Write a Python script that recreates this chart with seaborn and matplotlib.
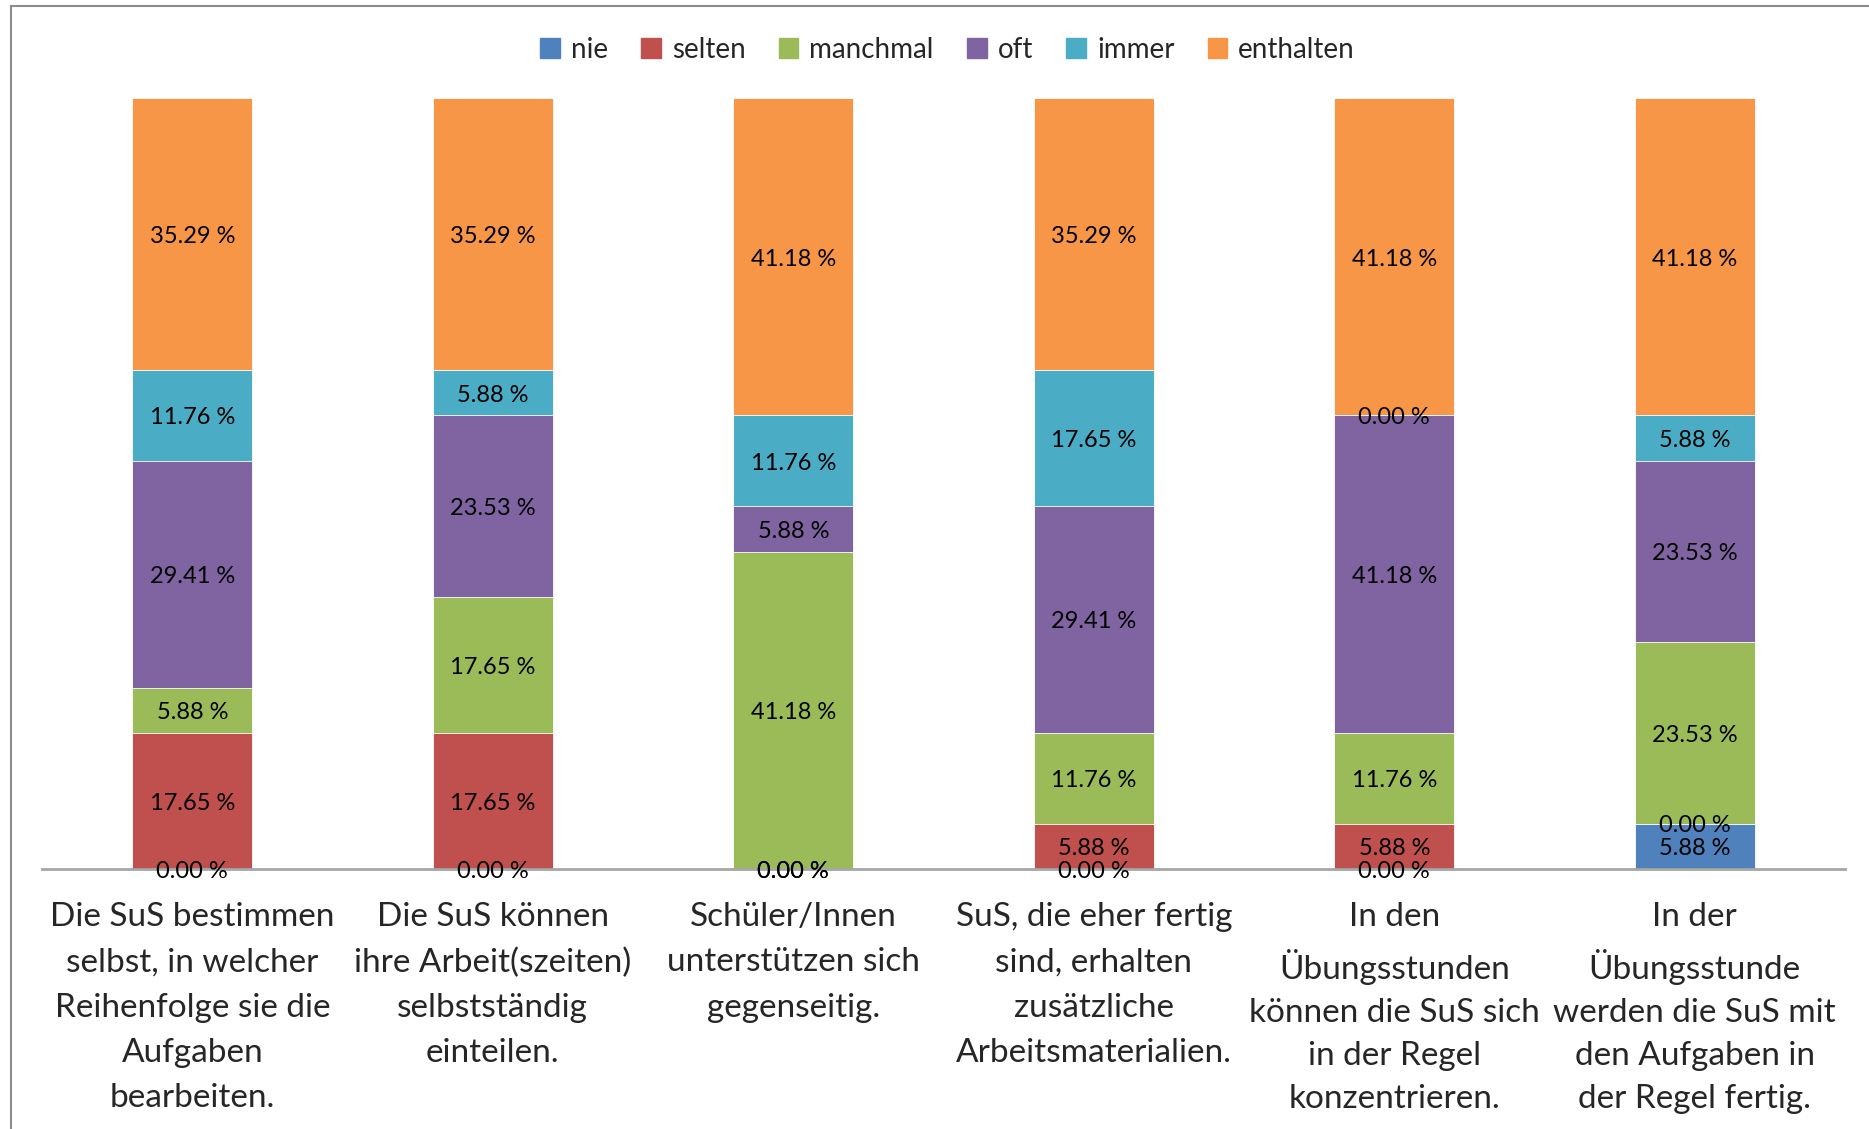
import pandas as pd
import numpy as np
import matplotlib
matplotlib.use("Agg")
import matplotlib.pyplot as plt
import seaborn as sns
from matplotlib.patches import Rectangle

# Categories (x tick labels, wrapped like the original)
categories = [
    "Die SuS bestimmen\nselbst, in welcher\nReihenfolge sie die\nAufgaben\nbearbeiten.",
    "Die SuS können\nihre Arbeit(szeiten)\nselbstständig\neinteilen.",
    "Schüler/Innen\nunterstützen sich\ngegenseitig.",
    "SuS, die eher fertig\nsind, erhalten\nzusätzliche\nArbeitsmaterialien.",
    "In den\nÜbungsstunden\nkönnen die SuS sich\nin der Regel\nkonzentrieren.",
    "In der\nÜbungsstunde\nwerden die SuS mit\nden Aufgaben in\nder Regel fertig.",
]

# Series values in percent
nie = [0.00, 0.00, 0.00, 0.00, 0.00, 5.88]
selten = [17.65, 17.65, 0.00, 5.88, 5.88, 0.00]
manchmal = [5.88, 17.65, 41.18, 11.76, 11.76, 23.53]
oft = [29.41, 23.53, 5.88, 29.41, 41.18, 23.53]
immer = [11.76, 5.88, 11.76, 17.65, 0.00, 5.88]
enthalten = [35.29, 35.29, 41.18, 35.29, 41.18, 41.18]

series = ["nie", "selten", "manchmal", "oft", "immer", "enthalten"]
colors = ["#4F81BD", "#C0504D", "#9BBB59", "#8064A2", "#4BACC6", "#F79646"]

df = pd.DataFrame(
    {"nie": nie, "selten": selten, "manchmal": manchmal,
     "oft": oft, "immer": immer, "enthalten": enthalten},
    index=categories,
)
cum = df.cumsum(axis=1)

sns.set_theme(style="white")
plt.rcParams["font.family"] = ["Lato", "DejaVu Sans"]

fig = plt.figure(figsize=(18.69, 11.29), dpi=100)
ax = fig.add_axes([42 / 1869, 1 - 869 / 1129, (1845 - 42) / 1869, (869 - 98) / 1129])

# draw cumulative bars from the top series downwards so they stack
for name, col in reversed(list(zip(series, colors))):
    sns.barplot(x=list(range(len(categories))), y=cum[name].values, color=col,
                width=0.4, saturation=1, ax=ax, edgecolor="white", linewidth=0.6,
                legend=False)

# segment labels
for name in series:
    mids = cum[name].values - df[name].values / 2
    for i, (m, v) in enumerate(zip(mids, df[name].values)):
        ax.text(i, m - 0.3, f"{v:.2f} %", ha="center", va="center", fontsize=17, color="black")

ax.set_ylim(0, 100)
ax.set_xlim(-0.5, len(categories) - 0.5)
ax.set_yticks([])
ax.set_ylabel("")
ax.set_xticks(range(len(categories)))
ax.set_xticklabels(categories, fontsize=24, linespacing=1.63)
# lines with "Ü" get extra height in matplotlib, tighten those labels a bit
for lab in ax.get_xticklabels():
    if "Ü" in lab.get_text():
        lab.set_linespacing(1.545)
ax.tick_params(axis="x", length=0, pad=24)
for s in ["left", "right", "top"]:
    ax.spines[s].set_visible(False)
ax.spines["bottom"].set_color("#A6A6A6")
ax.spines["bottom"].set_linewidth(2)

handles = [Rectangle((0, 0), 1, 1, color=c) for c in colors]
fig.legend(handles, series, loc="center", bbox_to_anchor=(0.507, 0.956), ncol=6,
           frameon=False, fontsize=20, handlelength=0.7, handleheight=0.7,
           handletextpad=0.4, columnspacing=1.2)

# outer chart border (right and bottom cut off in the original)
fig.patches.append(Rectangle((11 / 1869, -0.1), 1.1, 1 - 6 / 1129 + 0.1,
                             transform=fig.transFigure, fill=False,
                             edgecolor="#8C8C8C", linewidth=1.5))

fig.savefig("out.png", dpi=100)
